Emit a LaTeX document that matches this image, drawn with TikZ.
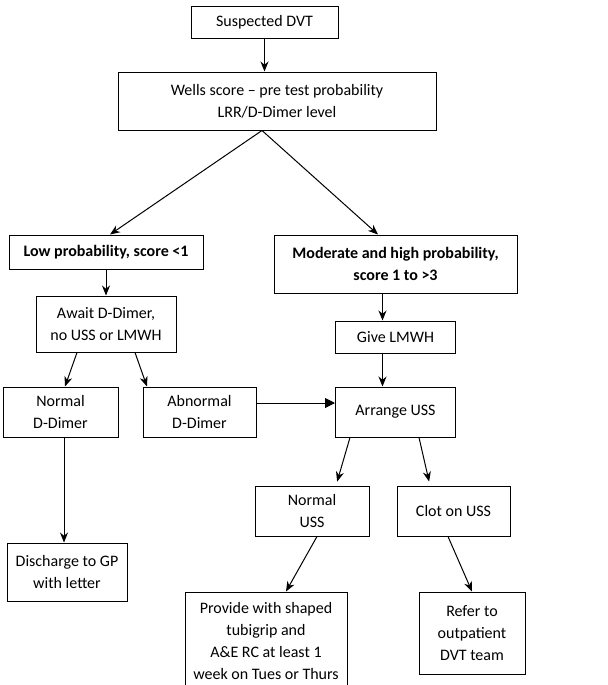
\documentclass[tikz,border=0pt]{standalone}
\usepackage{fontspec}
\setmainfont{Carlito}
\usepackage{tikz}
\usetikzlibrary{arrows.meta,positioning}

\begin{document}
\begin{tikzpicture}[
    node distance=12pt and 12pt,
    box/.style={draw, line width=0.5pt, align=center, inner sep=1pt,
      font=\fontsize{8}{11}\selectfont},
    arr/.style={-{Stealth[length=5pt, width=4pt]}, line width=0.5pt}
  ]
    \useasboundingbox (0,0) rectangle (303.5pt,-342.5pt);

    \node[box, minimum width=73.5pt, minimum height=16pt] (dvt) at (132.25pt,-11pt) {Suspected DVT};
    \node[box, minimum width=159pt, minimum height=29pt, below=16.5pt of dvt, xshift=6.25pt] (wells)
      {Wells score -- pre test probability\\LRR/D-Dimer level};
    \node[box, font=\fontsize{8}{11}\selectfont\bfseries, minimum width=97pt, minimum height=17pt,
      below=52pt of wells, xshift=-85.5pt] (low) {Low probability, score <1};
    \node[box, font=\fontsize{8}{11}\selectfont\bfseries, minimum width=121.5pt, minimum height=29pt,
      right=35pt of low.north east, anchor=north west] (mod) {Moderate and high probability,\\score 1 to >3};
    \node[box, minimum width=70pt, minimum height=28pt, below=13pt of low] (await) {Await D-Dimer,\\no USS or LMWH};
    \node[box, minimum width=60pt, minimum height=16pt, below=13.5pt of mod] (give) {Give LMWH};
    \node[box, minimum width=57.5pt, minimum height=25pt, below=17pt of await, xshift=-22.75pt] (normdd) {Normal\\D-Dimer};
    \node[box, minimum width=56.5pt, minimum height=25pt, right=12pt of normdd] (abdd) {Abnormal\\D-Dimer};
    \node[box, minimum width=60pt, minimum height=25pt, below=16.5pt of give] (arrange) {Arrange USS};
    \node[box, minimum width=57pt, minimum height=25pt, below=24pt of arrange, xshift=-41.75pt] (normuss) {Normal\\USS};
    \node[box, minimum width=56.5pt, minimum height=25pt, right=13.5pt of normuss] (clot) {Clot on USS};
    \node[box, minimum width=60pt, minimum height=29pt, below=52.5pt of normdd, xshift=3.25pt] (discharge)
      {Discharge to GP\\with letter};
    \node[box, minimum width=81pt, minimum height=49pt, below=27.5pt of normuss, xshift=-23pt] (provide)
      {Provide with shaped\\tubigrip and\\A\&E RC at least 1\\week on Tues or Thurs};
    \node[box, minimum width=53pt, minimum height=41pt, below=27.5pt of clot, xshift=9.25pt] (refer)
      {Refer to\\outpatient\\DVT team};

    \draw[arr] (dvt.south) -- (dvt.south |- wells.north);
    \draw[arr] ([xshift=-7.5pt]wells.south) -- ([xshift=2pt]low.north);
    \draw[arr] ([xshift=-7.5pt]wells.south) -- ([xshift=-8.75pt]mod.north);
    \draw[arr] (low.south) -- (await.north);
    \draw[arr] ([xshift=-6.5pt]mod.south) -- ([xshift=-6.5pt]give.north);
    \draw[arr] ([xshift=-14.5pt]await.south) -- ([xshift=2.25pt]normdd.north);
    \draw[arr] ([xshift=14.5pt]await.south) -- ([xshift=-26.25pt]abdd.north);
    \draw[arr] ([xshift=-6.5pt]give.south) -- ([xshift=-6.5pt]arrange.north);
    \draw[-{Triangle[length=5pt, width=5pt]}, line width=0.5pt] ([yshift=4.5pt]abdd.east) -- ([yshift=4.5pt]arrange.west);
    \draw[arr, shorten >=2pt] ([xshift=-22.75pt]arrange.south) -- ([xshift=12pt]normuss.north);
    \draw[arr, shorten >=2pt] ([xshift=11.75pt]arrange.south) -- ([xshift=-11.75pt]clot.north);
    \draw[arr] ([xshift=1.75pt]normdd.south) -- ([xshift=-1.5pt]discharge.north);
    \draw[arr] ([xshift=2.5pt]normuss.south) -- ([xshift=10pt]provide.north);
    \draw[arr] ([xshift=-2.75pt]clot.south) -- (refer.north);
  \end{tikzpicture}
\end{document}
